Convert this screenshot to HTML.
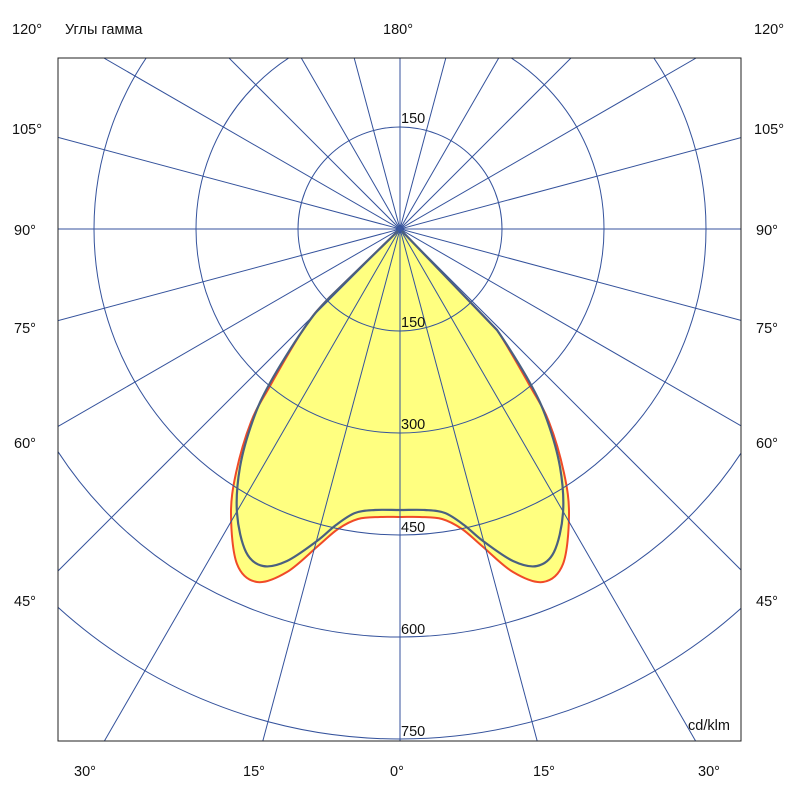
<!DOCTYPE html>
<html><head><meta charset="utf-8"><style>
html,body{margin:0;background:#fff;width:800px;height:800px;overflow:hidden}
svg{display:block}
text{font-family:"Liberation Sans",sans-serif;font-size:14.5px;fill:#111}
</style></head><body>
<svg id="s" width="800" height="800" xmlns="http://www.w3.org/2000/svg">
<defs><clipPath id="c"><rect x="58" y="58" width="683" height="683"/></clipPath></defs>
<rect x="0" y="0" width="800" height="800" fill="#fff"/>
<g clip-path="url(#c)">
<path id="red" fill="#ffff80" stroke="#f04a28" stroke-width="2"/>
<g id="grid" fill="none" stroke="#34529c" stroke-width="1"></g>
<path id="blue" fill="none" stroke="#4a6080" stroke-width="2.2"/>
</g>
<rect x="58" y="58" width="683" height="683" fill="none" stroke="#222" stroke-width="1"/>
<circle cx="400" cy="229" r="3" fill="#3a57a0"/>
<text x="12" y="34">120°</text><text x="65" y="34">Углы гамма</text>
<text x="383" y="34">180°</text><text x="754" y="34">120°</text>
<text x="12" y="134">105°</text><text x="754" y="134">105°</text>
<text x="14" y="235">90°</text><text x="756" y="235">90°</text>
<text x="14" y="333">75°</text><text x="756" y="333">75°</text>
<text x="14" y="448">60°</text><text x="756" y="448">60°</text>
<text x="14" y="606">45°</text><text x="756" y="606">45°</text>
<text x="74" y="776">30°</text><text x="243" y="776">15°</text><text x="390" y="776">0°</text>
<text x="533" y="776">15°</text><text x="698" y="776">30°</text>
<text x="401" y="123">150</text><text x="401" y="327">150</text><text x="401" y="429">300</text>
<text x="401" y="532">450</text><text x="401" y="634">600</text><text x="401" y="736">750</text>
<text x="688" y="730">cd/klm</text>
</svg>
<script>
var g=document.getElementById('grid'),ns='http://www.w3.org/2000/svg';
[102,204,306,408,510].forEach(function(r){var c=document.createElementNS(ns,'circle');c.setAttribute('cx',400);c.setAttribute('cy',229);c.setAttribute('r',r);g.appendChild(c);});
function clipEnd(dx,dy){var tt=1e9;
 if(dx>0)tt=Math.min(tt,(741-400)/dx); if(dx<0)tt=Math.min(tt,(58-400)/dx);
 if(dy>0)tt=Math.min(tt,(741-229)/dy); if(dy<0)tt=Math.min(tt,(58-229)/dy);
 return [400+dx*tt,229+dy*tt];}
for(var a=0;a<180;a+=15){var t=a*Math.PI/180,s=Math.sin(t),c=Math.cos(t);
 var p=clipEnd(-s,c),q=clipEnd(s,-c),l=document.createElementNS(ns,'line');
 l.setAttribute('x1',p[0]);l.setAttribute('y1',p[1]);l.setAttribute('x2',q[0]);l.setAttribute('y2',q[1]);g.appendChild(l);}
function mk(half){
 var pts=half.slice();for(var i=half.length-2;i>=0;i--)pts.push([800-half[i][0],half[i][1]]);
 var all=[[400,229]].concat(pts).concat([[400,229]]);
 var d='M400,229 L'+pts[0][0]+','+pts[0][1];
 for(var i=1;i<all.length-2;i++){
  var p0=all[i-1],p1=all[i],p2=all[i+1],p3=all[i+2];
  if(i==all.length-3){d+=' L400,229';break;}
  var c1=[p1[0]+(p2[0]-p0[0])/6,p1[1]+(p2[1]-p0[1])/6],c2=[p2[0]-(p3[0]-p1[0])/6,p2[1]-(p3[1]-p1[1])/6];
  d+=' C'+c1[0]+','+c1[1]+' '+c2[0]+','+c2[1]+' '+p2[0]+','+p2[1];
 }
 return d+' Z';
}
var blue=[[330,297],[303,330],[270,383],[253,420],[240,467],[237,513],[246,552],[263,566],[287,561],[317,541],[336,525],[355,513],[375,510],[400,510]];
var red=[[330,297],[303,330],[270,386],[251,422],[236,473],[231,515],[237,564],[257,582],[287,572],[318,546],[338,529],[358,519],[380,517],[400,517]];
document.getElementById('blue').setAttribute('d',mk(blue));
document.getElementById('red').setAttribute('d',mk(red));
</script>
</body></html>
